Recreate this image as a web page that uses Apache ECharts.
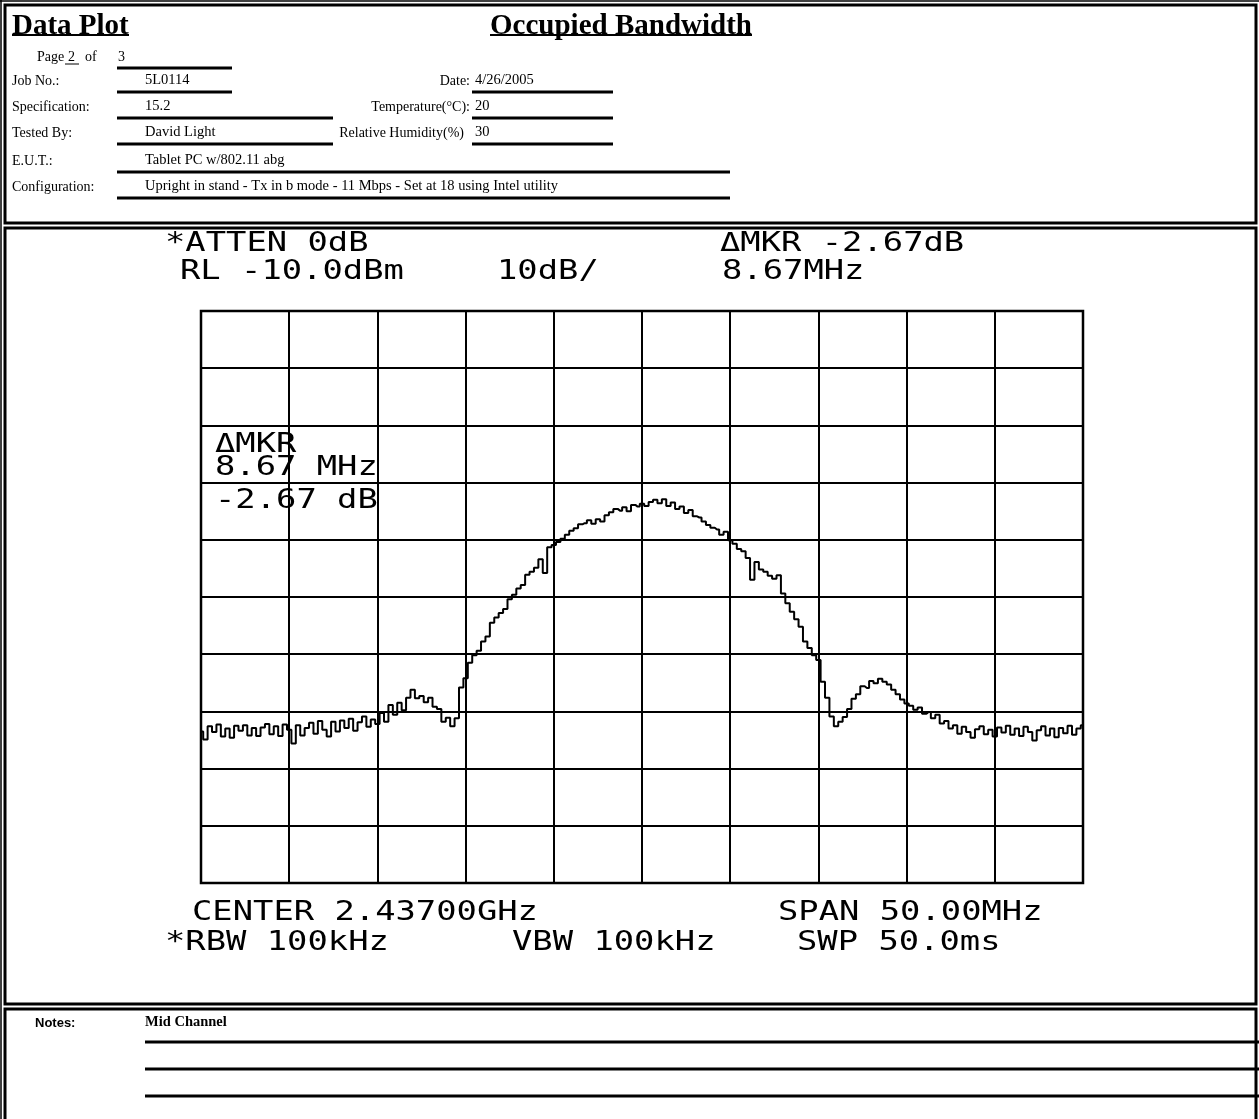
<!DOCTYPE html>
<html><head><meta charset="utf-8">
<script src="https://cdn.jsdelivr.net/npm/echarts@6/dist/echarts.min.js"></script>
<style>html,body{margin:0;padding:0;background:#fff}#c{width:1259px;height:1119px}</style>
</head><body><div id="c"></div>
<script>
// ---------- text content ----------
const pageTitle = 'Data Plot';
const plotTitle = 'Occupied Bandwidth';
const pageWord = 'Page', pageNum = '2', pageOf = 'of', pageTotal = '3';
const leftLabels = ['Job No.:', 'Specification:', 'Tested By:', 'E.U.T.:', 'Configuration:'];
const leftValues = ['5L0114', '15.2', 'David Light', 'Tablet PC w/802.11 abg',
  'Upright in stand - Tx in b mode - 11 Mbps - Set at 18 using Intel utility'];
const rightLabels = ['Date:', 'Temperature(°C):', 'Relative Humidity(%)'];
const rightValues = ['4/26/2005', '20', '30'];
const analyzerTopLeft = ['*ATTEN 0dB', 'RL -10.0dBm'];
const analyzerScale = '10dB/';
const analyzerTopRight = ['ΔMKR -2.67dB', '8.67MHz'];
const markerReadout = ['ΔMKR', '8.67 MHz', '-2.67 dB'];
const analyzerBottomLeft = ['CENTER 2.43700GHz', '*RBW 100kHz'];
const analyzerBottomMid = 'VBW 100kHz';
const analyzerBottomRight = ['SPAN 50.00MHz', 'SWP 50.0ms'];
const notesLabel = 'Notes:';
const notesText = 'Mid Channel';

// ---------- analyzer settings ----------
const refLevelDbm = -10;
const dbPerDiv = 10;
const verticalDivs = 10;
const spanMHz = 50;
const freqDivMHz = 5;
const freqStepMHz = 0.25;   // trace sample spacing, offset from center frequency

// ---------- trace (dBm), 201 samples across the span ----------
const traceDbm = [
  -83.5,-84.9,-82.6,-83.6,-82.3,-84.4,-83.0,-84.6,-82.5,-83.4,
  -82.4,-84.2,-82.9,-84.3,-82.8,-82.2,-84.0,-82.6,-84.3,-82.3,
  -83.2,-85.6,-82.4,-84.2,-82.9,-82.0,-83.9,-81.7,-83.2,-84.4,
  -81.8,-83.5,-81.6,-82.9,-81.3,-83.4,-81.9,-80.9,-82.7,-81.4,
  -82.2,-80.3,-81.8,-78.9,-80.6,-78.5,-79.8,-77.6,-76.2,-77.7,
  -77.3,-78.4,-77.6,-79.2,-79.6,-81.8,-81.1,-82.6,-81.2,-75.8,
  -74.2,-71.5,-70.2,-69.4,-67.8,-66.9,-64.5,-63.6,-62.8,-62.1,
  -60.4,-59.6,-58.5,-57.9,-56.1,-55.6,-54.9,-53.4,-55.8,-51.3,
  -50.9,-50.4,-49.8,-49.1,-48.4,-48.0,-47.3,-47.1,-46.6,-47.2,
  -46.4,-46.8,-45.7,-45.2,-44.6,-44.9,-44.3,-45.0,-43.9,-44.2,
  -43.7,-44.1,-43.4,-43.0,-43.6,-42.9,-44.1,-43.5,-44.6,-44.2,
  -45.3,-44.8,-45.9,-46.1,-46.8,-47.4,-47.9,-48.2,-49.1,-48.6,
  -50.1,-50.7,-51.6,-52.0,-53.2,-57.0,-53.9,-55.2,-55.6,-56.3,
  -56.8,-56.2,-59.4,-61.1,-62.6,-63.9,-65.2,-67.8,-68.9,-70.2,
  -71.0,-74.8,-77.6,-80.9,-82.6,-81.8,-81.0,-79.6,-77.8,-77.0,
  -75.6,-75.9,-74.7,-75.1,-74.3,-74.8,-75.3,-76.2,-77.0,-77.9,
  -78.6,-79.0,-79.7,-79.3,-80.4,-80.1,-81.2,-80.6,-82.1,-81.7,
  -83.0,-82.4,-83.9,-82.7,-83.6,-84.6,-83.1,-82.6,-84.0,-83.2,
  -84.4,-82.8,-83.7,-82.5,-84.1,-83.0,-84.3,-82.7,-83.6,-85.1,
  -83.3,-82.6,-84.2,-83.0,-84.5,-82.9,-83.8,-82.5,-84.1,-83.0,-82.4
];

// ---------- drawing helpers ----------
const SERIF = '"Liberation Serif","Times New Roman",serif';
const MONO = '"DejaVu Sans Mono",monospace';
const g = [];
function txt(x, y, s, font, opt) {
  opt = opt || {};
  g.push({type:'text', x:x, y:y, scaleX: opt.sx || 1, z: 10,
    style:{text:s, font:font, fill:'#000', textAlign: opt.align || 'left', textVerticalAlign:'bottom'}});
}
function hline(x1, x2, y, w) {
  g.push({type:'line', z: 10, shape:{x1:x1, y1:y, x2:x2, y2:y}, style:{stroke:'#000', lineWidth:w || 2}});
}
function vline(x, y1, y2, w) {
  g.push({type:'line', z: 10, shape:{x1:x, y1:y1, x2:x, y2:y2}, style:{stroke:'#000', lineWidth:w || 2}});
}

// page frame and section boxes
vline(1, 0, 1119, 1.5); hline(0, 1259, 1, 1.5);
g.push({type:'rect', z:10, shape:{x:5, y:5, width:1251, height:218}, style:{fill:null, stroke:'#000', lineWidth:3}});
g.push({type:'rect', z:10, shape:{x:5, y:228, width:1251, height:776}, style:{fill:null, stroke:'#000', lineWidth:3}});
g.push({type:'rect', z:10, shape:{x:5, y:1009, width:1251, height:120}, style:{fill:null, stroke:'#000', lineWidth:3}});

// header
const F14 = '14px ' + SERIF;
const FV = '14.5px ' + SERIF;
txt(12, 41, pageTitle, 'bold 29px ' + SERIF);
hline(12, 129, 35, 2);
txt(621, 41, plotTitle, 'bold 29px ' + SERIF, {align:'center'});
hline(490, 752, 35, 2);
txt(37, 64, pageWord, F14);
txt(68, 64, pageNum, F14); hline(65, 79, 64, 1);
txt(85, 64, pageOf, F14);
txt(118, 64, pageTotal, F14);
hline(117, 232, 68, 3);
const rowLine = [92, 118, 144, 172, 198];
const rowLineEnd = [232, 333, 333, 730, 730];
for (let i = 0; i < leftLabels.length; i++) {
  txt(12, rowLine[i] - 4, leftLabels[i], F14);
  txt(145, rowLine[i] - 4, leftValues[i], FV);
  hline(117, rowLineEnd[i], rowLine[i], 3);
}
for (let i = 0; i < rightLabels.length; i++) {
  txt(i === 2 ? 464 : 470, rowLine[i] - 4, rightLabels[i], F14, {align:'right'});
  txt(475, rowLine[i] - 4, rightValues[i], FV);
  hline(472, 613, rowLine[i], 3);
}

// analyzer annotations
const FM = '26px ' + MONO;
const SX = 1.3;
txt(165, 257, analyzerTopLeft[0], FM, {sx:SX});
txt(180, 285, analyzerTopLeft[1], FM, {sx:SX});
txt(497, 285, analyzerScale, FM, {sx:SX});
txt(720, 257, analyzerTopRight[0], FM, {sx:SX});
txt(722, 285, analyzerTopRight[1], FM, {sx:SX});
txt(215, 458, markerReadout[0], FM, {sx:SX});
txt(215, 481, markerReadout[1], FM, {sx:SX});
txt(215, 514, markerReadout[2], FM, {sx:SX});
txt(192, 926, analyzerBottomLeft[0], FM, {sx:SX});
txt(165, 956, analyzerBottomLeft[1], FM, {sx:SX});
txt(512, 956, analyzerBottomMid, FM, {sx:SX});
txt(778, 926, analyzerBottomRight[0], FM, {sx:SX});
txt(797, 956, analyzerBottomRight[1], FM, {sx:SX});

// notes
txt(35, 1030, notesLabel, 'bold 13px "Liberation Sans",Arial,sans-serif');
txt(145, 1030, notesText, 'bold 14.5px ' + SERIF);
hline(145, 1259, 1042, 3);
hline(145, 1259, 1069, 3);
hline(145, 1259, 1096, 3);

// ---------- chart ----------
const bottomDbm = refLevelDbm - dbPerDiv * verticalDivs;
const traceData = traceDbm.map((v, i) => [-spanMHz / 2 + i * freqStepMHz, v]);
const axisCommon = {
  axisLabel:{show:false}, axisTick:{show:false}, axisLine:{show:false},
  splitLine:{show:true, lineStyle:{color:'#000', width:2}}
};
const chart = echarts.init(document.getElementById('c'), null, {renderer:'canvas'});
chart.setOption({
  animation:false,
  backgroundColor:'#fff',
  grid:{left:201, top:311, width:882, height:572, show:true, borderColor:'#000', borderWidth:2.5},
  xAxis:Object.assign({type:'value', min:-spanMHz/2, max:spanMHz/2, interval:freqDivMHz}, axisCommon),
  yAxis:Object.assign({type:'value', min:bottomDbm, max:refLevelDbm, interval:dbPerDiv}, axisCommon),
  series:[{type:'line', data:traceData, step:'middle', symbol:'none', lineStyle:{color:'#000', width:2}, z:5}],
  graphic:g
});
</script></body></html>
